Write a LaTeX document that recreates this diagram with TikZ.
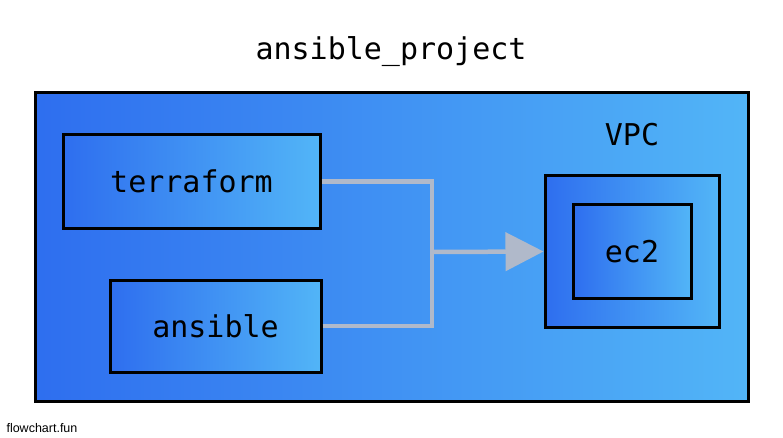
\documentclass[tikz,border=0pt]{standalone}
\usepackage{fontspec}
\setmonofont{DejaVu Sans Mono}
\setsansfont{Liberation Sans}
\usetikzlibrary{arrows.meta}
\definecolor{gl}{HTML}{2E6EEF}
\definecolor{gr}{HTML}{52B5F7}
\definecolor{edgegray}{HTML}{B0B9CA}
\tikzset{
  box/.style={draw=black, line width=3pt, left color=gl, right color=gr, rectangle, inner sep=0pt},
  lbl/.style={font=\ttfamily\fontsize{30}{32}\selectfont, text=black},
  edge/.style={draw=edgegray, line width=4.5pt},
}
\begin{document}
\begin{tikzpicture}[x=1pt,y=-1pt]
\useasboundingbox (0,0) rectangle (783,438);
\node[lbl] (title) at (391,52) {ansible\_project};
\node[box, minimum width=713pt, minimum height=308pt] (outer) at (391.5,247) {};
\node[lbl] (vpclbl) at (632,135) {VPC};
\node[box, minimum width=257pt, minimum height=93pt, lbl] (terraform) at (191.5,181.5) {terraform};
\node[box, minimum width=211pt, minimum height=92pt, lbl] (ansible) at (215.5,326) {ansible};
\node[box, minimum width=174pt, minimum height=151pt] (vpc) at (632,251.5) {};
\node[box, minimum width=118pt, minimum height=93pt, lbl] (ec2) at (632,251.5) {ec2};
\coordinate (j) at (432,252);
\draw[edge] (terraform.east) -| (j);
\draw[edge] (ansible.east) -| (j);
\draw[edge, -{Triangle[length=38pt,width=38pt]}] (j) -- (vpc.west);
\node[font=\sffamily\fontsize{12.5}{14}\selectfont, anchor=west] (brand) at (3,428) {flowchart.fun};
\end{tikzpicture}
\end{document}
